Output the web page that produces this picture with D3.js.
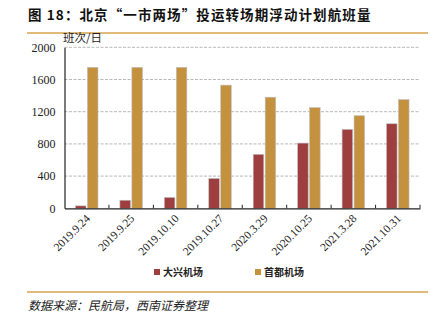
<!DOCTYPE html>
<html>
<head>
<meta charset="utf-8">
<script src="https://cdn.jsdelivr.net/npm/d3@7"></script>
<style>
  html, body { margin: 0; padding: 0; background: #fff; }
  svg { display: block; }
</style>
</head>
<body>
<svg id="chart" width="446" height="323"></svg>
<script>
// Flight dates (categories)
const dates = ["2019.9.24", "2019.9.25", "2019.10.10", "2019.10.27", "2020.3.29", "2020.10.25", "2021.3.28", "2021.10.31"];
// Daily scheduled flights, Daxing airport
const daxing = [30, 100, 135, 370, 670, 810, 980, 1050];
// Daily scheduled flights, Capital airport
const capital = [1750, 1750, 1750, 1530, 1380, 1250, 1150, 1350];
const yTicks = [0, 400, 800, 1200, 1600, 2000];
const seriesNames = ["大兴机场", "首都机场"];
const seriesColors = ["#9e3e3f", "#c4913f"];

(function () {
  const svg = d3.select("#chart");
  const serif = "'Liberation Serif', 'Times New Roman', serif";
  const cjk = "'Noto Sans CJK SC', sans-serif";

  // Title and rule
  svg.append("text")
    .attr("x", 28).attr("y", 20)
    .attr("font-family", cjk).attr("font-weight", "bold")
    .attr("font-size", 13.5).attr("letter-spacing", 1.1)
    .attr("fill", "#111")
    .text("图 18：北京“一市两场”投运转场期浮动计划航班量");
  svg.append("line").attr("x1", 27).attr("x2", 428).attr("y1", 33).attr("y2", 33)
    .attr("stroke", "#d6a24f").attr("stroke-width", 1.3);

  const plotL = 64.5, plotR = 420, plotT = 47.3, plotB = 208.3;

  const x = d3.scaleBand().domain(dates).range([plotL, plotR]).paddingInner(0).paddingOuter(0);
  const y = d3.scaleLinear().domain([0, 2000]).range([plotB, plotT]);
  const inner = d3.scaleBand().domain([0, 1]).range([0, 22.5]).paddingInner(0.12);

  // Dashed gridlines
  svg.append("g").selectAll("line").data(yTicks.filter(d => d > 0)).join("line")
    .attr("x1", plotL).attr("x2", plotR)
    .attr("y1", d => y(d)).attr("y2", d => y(d))
    .attr("stroke", "#b8b8b8").attr("stroke-width", 1).attr("stroke-dasharray", "3,1.5");

  // Y axis
  const yAxis = d3.axisLeft(y).tickValues(yTicks).tickSize(0).tickPadding(9).tickFormat(d3.format("d"));
  const yg = svg.append("g").attr("transform", `translate(${plotL},0)`).call(yAxis);
  yg.select(".domain").attr("stroke", "#222").attr("stroke-width", 1.2);
  yg.selectAll("text").attr("font-family", serif).attr("font-size", 12).attr("fill", "#222");

  svg.append("text").attr("x", 63).attr("y", 42)
    .attr("font-family", cjk).attr("font-size", 11.5).attr("fill", "#222")
    .text("班次/日");

  // Bars
  const groups = svg.append("g").selectAll("g").data(dates).join("g")
    .attr("transform", d => `translate(${x(d) + x.bandwidth() / 2 - 11.25},0)`);
  [daxing, capital].forEach((vals, si) => {
    groups.append("rect")
      .attr("x", inner(si))
      .attr("width", inner.bandwidth())
      .attr("y", (d, i) => y(vals[i]))
      .attr("height", (d, i) => plotB - y(vals[i]))
      .attr("fill", seriesColors[si])
      .attr("stroke", "#bdbdbd").attr("stroke-width", 0.6);
  });

  // X axis
  const xAxis = d3.axisBottom(x).tickSize(0).tickFormat("");
  const xg = svg.append("g").attr("transform", `translate(0,${plotB})`).call(xAxis);
  xg.select(".domain").attr("stroke", "#222").attr("stroke-width", 1.2);
  // Category boundary ticks pointing up
  svg.append("g").selectAll("line").data(dates).join("line")
    .attr("x1", d => x(d) + x.bandwidth()).attr("x2", d => x(d) + x.bandwidth())
    .attr("y1", plotB).attr("y2", plotB - 3.5)
    .attr("stroke", "#222").attr("stroke-width", 1);

  // Rotated category labels
  svg.append("g").selectAll("text").data(dates).join("text")
    .attr("transform", d => `translate(${x(d) + x.bandwidth() / 2 + 4},${plotB + 11}) rotate(-45)`)
    .attr("text-anchor", "end")
    .attr("font-family", serif).attr("font-size", 11.5).attr("fill", "#222")
    .text(d => d);

  // Legend
  const legendX = [154, 255];
  seriesNames.forEach((name, i) => {
    svg.append("rect").attr("x", legendX[i]).attr("y", 269).attr("width", 6).attr("height", 6)
      .attr("fill", seriesColors[i]);
    svg.append("text").attr("x", legendX[i] + 9).attr("y", 276)
      .attr("font-family", cjk).attr("font-size", 10).attr("font-weight", "bold")
      .attr("fill", "#222").text(name);
  });

  // Footer rule and source
  svg.append("line").attr("x1", 27).attr("x2", 428).attr("y1", 292).attr("y2", 292)
    .attr("stroke", "#d6a24f").attr("stroke-width", 1.3);
  svg.append("text").attr("x", 28).attr("y", 310)
    .attr("font-family", cjk).attr("font-size", 12).attr("font-style", "italic")
    .attr("fill", "#222").text("数据来源：民航局，西南证券整理");
})();
</script>
</body>
</html>
